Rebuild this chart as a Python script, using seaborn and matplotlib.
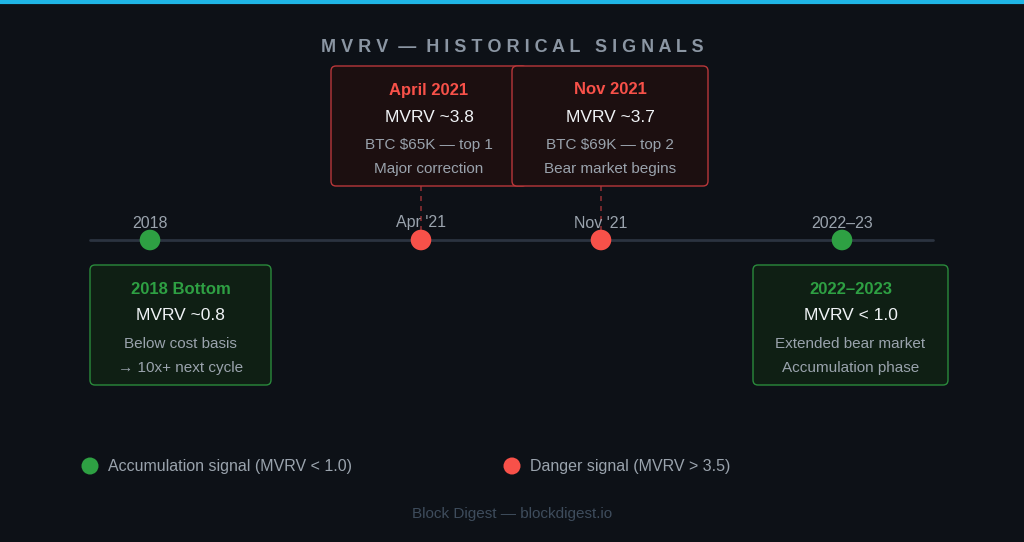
import matplotlib
matplotlib.use("Agg")
import matplotlib.pyplot as plt
import seaborn as sns
import pandas as pd
from matplotlib.patches import FancyBboxPatch

sns.set_theme(style="white")
plt.rcParams['font.family'] = ['Liberation Sans', 'DejaVu Sans']

# Data
event_labels = ["2018", "Apr '21", "Nov '21", "2022–23"]
event_pos = [150, 421, 601, 842]
event_kind = ["acc", "danger", "danger", "acc"]
box_titles = ["2018 Bottom", "April 2021", "Nov 2021", "2022–2023"]
box_mvrv = ["MVRV ~0.8", "MVRV ~3.8", "MVRV ~3.7", "MVRV < 1.0"]
box_line1 = ["Below cost basis", "BTC $65K — top 1", "BTC $69K — top 2", "Extended bear market"]
box_line2 = ["→ 10x+ next cycle", "Major correction", "Bear market begins", "Accumulation phase"]
legend_labels = ["Accumulation signal (MVRV < 1.0)", "Danger signal (MVRV > 3.5)"]

BG = "#0d1117"
GREEN = "#2ea043"
RED = "#f85149"
GREY = "#9aa3ad"
WHITE = "#f0f3f6"

fig = plt.figure(figsize=(10.24, 5.42), dpi=100, facecolor=BG)
ax = fig.add_axes([0, 0, 1, 1])
ax.set_facecolor(BG)

ax.plot([0, 1024], [1.5, 1.5], color="#1fb6e6", lw=3)
ax.text(512, 47, "M V R V  —  H I S T O R I C A L   S I G N A L S", ha="center", va="center",
        color="#8b96a3", fontsize=13, fontweight="bold", fontstretch="condensed")

ax.plot([90, 933], [240, 240], color="#2b3340", lw=2, zorder=1)

df = pd.DataFrame({"x": event_pos, "y": [240]*4, "kind": event_kind})
sns.scatterplot(data=df, x="x", y="y", hue="kind", palette={"acc": GREEN, "danger": RED},
                s=220, edgecolor="none", legend=False, ax=ax, zorder=3)
ax.set_xlim(0, 1024); ax.set_ylim(542, 0); ax.axis("off")
for lab, x in zip(event_labels, event_pos):
    ax.text(x, 223, lab, ha="center", va="center", color=GREY, fontsize=11.5)

boxes = [(90, 265, 181, 120, "acc"), (331, 66, 196, 120, "danger"),
         (512, 66, 196, 120, "danger"), (753, 265, 195, 120, "acc")]
for i, (bx, by, bw, bh, k) in enumerate(boxes):
    ec = "#2a8a3c" if k == "acc" else "#b8373a"
    fc = "#0f1f14" if k == "acc" else "#1c0f10"
    ax.add_patch(FancyBboxPatch((bx, by), bw, bh, boxstyle="round,pad=0,rounding_size=5",
                                fc=fc, ec=ec, lw=1, zorder=2))
    cx = bx + bw / 2
    ax.text(cx, by + 24, box_titles[i], ha="center", va="center", color=GREEN if k == "acc" else RED,
            fontsize=12, fontweight="bold", zorder=4)
    ax.text(cx, by + 51, box_mvrv[i], ha="center", va="center", color=WHITE, fontsize=12.5, zorder=4)
    ax.text(cx, by + 79, box_line1[i], ha="center", va="center", color=GREY, fontsize=11, zorder=4)
    ax.text(cx, by + 103, box_line2[i], ha="center", va="center", color=GREY, fontsize=11, zorder=4)
    if k == "danger":
        x = event_pos[i]
        ax.plot([x, x], [by + bh, 230], color="#8a2f32", lw=1.2, ls=(0, (3, 3)), zorder=1)

for lx, lab, c in zip([90, 512], legend_labels, [GREEN, RED]):
    ax.scatter([lx], [466], s=150, color=c, edgecolor="none")
    ax.text(lx + 18, 466, lab, ha="left", va="center", color=GREY, fontsize=11.5)

ax.text(512, 514, "Block Digest — blockdigest.io", ha="center", va="center", color="#3e4c5c", fontsize=11)

fig.savefig("out.png", dpi=100, facecolor=BG)
